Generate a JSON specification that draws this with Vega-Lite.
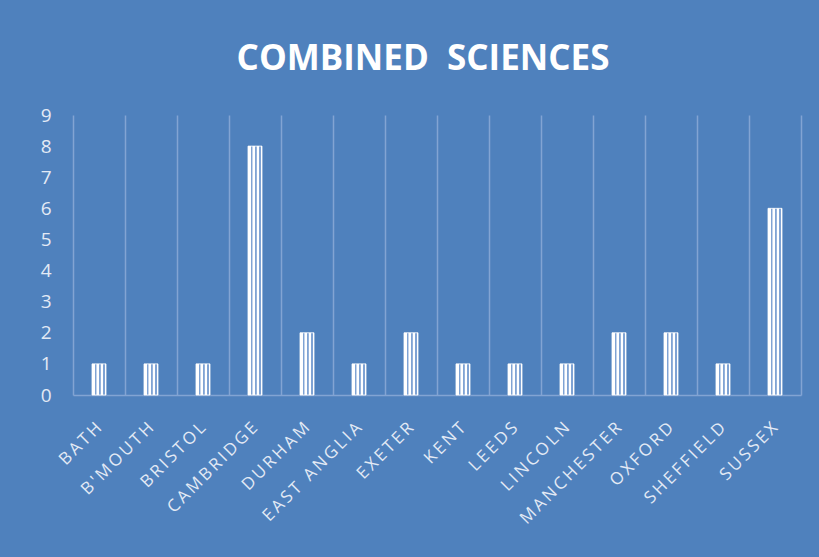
{
  "$schema": "https://vega.github.io/schema/vega-lite/v6.json",
  "autosize": {"type": "none"},
  "width": 728,
  "height": 280,
  "padding": {"left": 73, "top": 115, "right": 18, "bottom": 162},
  "background": "#4F81BD",
  "title": {
    "text": "COMBINED\u00a0\u00a0SCIENCES",
    "color": "#FFFFFF",
    "font": "Open Sans",
    "fontSize": 35,
    "fontWeight": "bold",
    "anchor": "middle",
    "frame": "group",
    "dx": -14,
    "offset": 29
  },
  "data": {
    "values": [
      {"uni": "BATH", "count": 1},
      {"uni": "B'MOUTH", "count": 1},
      {"uni": "BRISTOL", "count": 1},
      {"uni": "CAMBRIDGE", "count": 8},
      {"uni": "DURHAM", "count": 2},
      {"uni": "EAST ANGLIA", "count": 1},
      {"uni": "EXETER", "count": 2},
      {"uni": "KENT", "count": 1},
      {"uni": "LEEDS", "count": 1},
      {"uni": "LINCOLN", "count": 1},
      {"uni": "MANCHESTER", "count": 2},
      {"uni": "OXFORD", "count": 2},
      {"uni": "SHEFFIELD", "count": 1},
      {"uni": "SUSSEX", "count": 6}
    ]
  },
  "encoding": {
    "x": {
      "field": "uni",
      "type": "nominal",
      "sort": null,
      "scale": {"paddingInner": 0, "paddingOuter": 0},
      "axis": {
        "title": null,
        "grid": true,
        "bandPosition": 0,
        "gridColor": "#82A4D3",
        "gridWidth": 1.5,
        "domainColor": "#82A4D3",
        "domainWidth": 1.5,
        "ticks": false,
        "labelAngle": -45,
        "labelAlign": "right",
        "labelBaseline": "middle",
        "labelPadding": 30,
        "labelFont": "Open Sans",
        "labelFontSize": 17,
        "labelColor": "#E3EAF5",
        "labelLimit": 400,
        "labelOverlap": false,
        "labelExpr": "join(split(datum.label, ''), '\u2009')"
      }
    },
    "y": {
      "field": "count",
      "type": "quantitative",
      "scale": {"domain": [0, 9], "nice": false},
      "axis": {
        "title": null,
        "grid": false,
        "domain": false,
        "ticks": false,
        "values": [0, 1, 2, 3, 4, 5, 6, 7, 8, 9],
        "labelPadding": 22,
        "labelFont": "Open Sans",
        "labelFontSize": 19,
        "labelColor": "#E3EAF5"
      }
    }
  },
  "layer": [
    {
      "mark": {
        "type": "bar",
        "width": 14,
        "stroke": "#FFFFFF",
        "strokeWidth": 0.8,
        "fill": {
          "gradient": "linear",
          "x1": 0, "y1": 0, "x2": 1, "y2": 0,
          "stops": [
            {"offset": 0, "color": "#FFFFFF"},
            {"offset": 0.18, "color": "#FFFFFF"},
            {"offset": 0.22, "color": "#7FA3D4"},
            {"offset": 0.3, "color": "#7FA3D4"},
            {"offset": 0.34, "color": "#FFFFFF"},
            {"offset": 0.48, "color": "#FFFFFF"},
            {"offset": 0.52, "color": "#7FA3D4"},
            {"offset": 0.6, "color": "#7FA3D4"},
            {"offset": 0.64, "color": "#FFFFFF"},
            {"offset": 0.78, "color": "#FFFFFF"},
            {"offset": 0.82, "color": "#7FA3D4"},
            {"offset": 0.9, "color": "#7FA3D4"},
            {"offset": 0.94, "color": "#FFFFFF"},
            {"offset": 1, "color": "#FFFFFF"}
          ]
        }
      }
    },
    {
      "mark": {"type": "bar", "width": 14, "opacity": 0},
      "encoding": {
        "y": {
          "field": "count",
          "type": "quantitative",
          "scale": {"domain": [0, 9], "nice": false},
          "axis": {
            "orient": "right",
            "title": null,
            "grid": false,
            "domain": true,
            "domainColor": "#82A4D3",
            "domainWidth": 1.5,
            "ticks": false,
            "labels": false
          }
        }
      }
    }
  ],
  "resolve": {"axis": {"y": "independent"}},
  "config": {"view": {"stroke": null}}
}
